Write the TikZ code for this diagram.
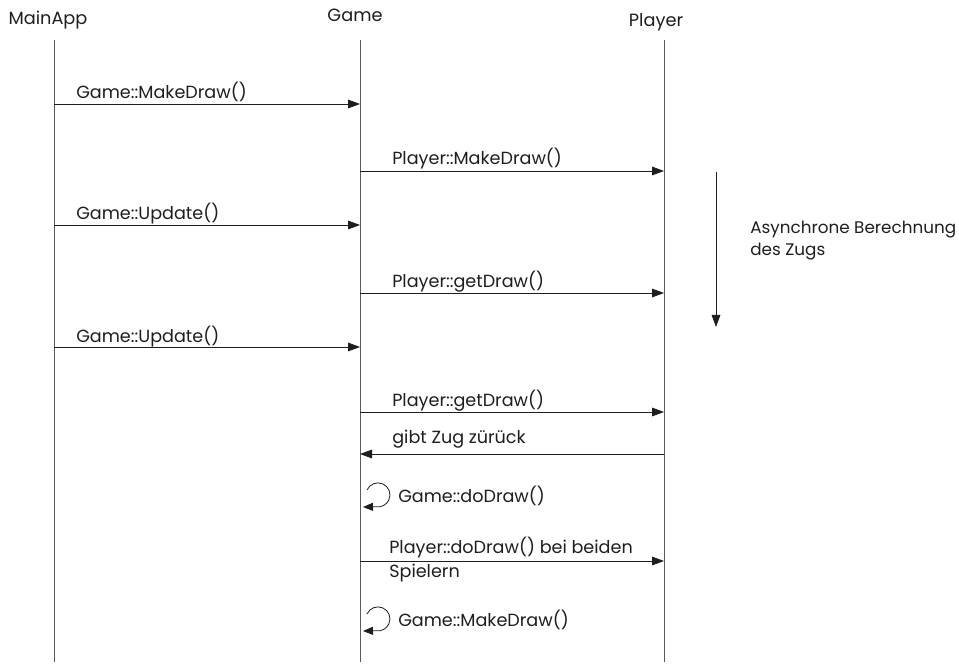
\documentclass[tikz,border=0pt]{standalone}
\usepackage{fontspec}
\setmainfont{Poppins}
\usepackage{tikz}
\usetikzlibrary{arrows.meta,positioning,calc}
\definecolor{ink}{RGB}{30,30,30}
\definecolor{life}{RGB}{90,90,90}
\tikzset{
  actor/.style={font=\fontsize{13.3}{15}\selectfont,text=ink,inner sep=0pt},
  lifeline/.style={draw=life,line width=0.7pt},
  msg/.style={-{Triangle[length=9pt,width=6.5pt]},line width=0.6pt,ink},
  lbl/.style={font=\fontsize{13.2}{15}\selectfont,text=ink,inner sep=0pt,anchor=base west},
  note/.style={lbl,font=\fontsize{12.6}{15}\selectfont},
  self/.style={-{Triangle[length=7.5pt,width=6pt]},line width=0.6pt,ink},
}

\begin{document}
\begin{tikzpicture}[x=0.75pt,y=-0.75pt]
  \useasboundingbox (0,0) rectangle (959,666);

  % actors and their lifelines
  \node[actor] (mainapp) at (48,20) {MainApp};
  \node[actor] (game) at (355,15) {Game};
  \node[actor] (player) at (656,22) {Player};
  \coordinate (mainapp top) at (54,40);  \coordinate (mainapp end) at (54,662);
  \coordinate (game top) at (360,40);    \coordinate (game end) at (360,662);
  \coordinate (player top) at (664,40);  \coordinate (player end) at (664,662);
  \draw[lifeline] (mainapp top) -- (mainapp end);
  \draw[lifeline] (game top) -- (game end);
  \draw[lifeline] (player top) -- (player end);

  % calls from MainApp to Game
  \coordinate (ma1) at (54,104); \coordinate (ga1) at (360,104);
  \coordinate (ma2) at (54,225); \coordinate (ga2) at (360,225);
  \coordinate (ma3) at (54,347); \coordinate (ga3) at (360,347);
  \draw[msg] (ma1) -- (ga1);
  \draw[msg] (ma2) -- (ga2);
  \draw[msg] (ma3) -- (ga3);
  \node[lbl] (l1) at (76,99) {Game::MakeDraw()};
  \node[lbl] (l3) at (76,220) {Game::Update()};
  \node[lbl] (l5) at (76,342) {Game::Update()};

  % calls from Game to Player
  \coordinate (gb1) at (360,171); \coordinate (pb1) at (664,171);
  \coordinate (gb2) at (360,293); \coordinate (pb2) at (664,293);
  \coordinate (gb3) at (360,412); \coordinate (pb3) at (664,412);
  \coordinate (gb4) at (360,561); \coordinate (pb4) at (664,561);
  \draw[msg] (gb1) -- (pb1);
  \draw[msg] (gb2) -- (pb2);
  \draw[msg] (gb3) -- (pb3);
  \draw[msg] (gb4) -- (pb4);
  \node[lbl] (l2) at (392,165) {Player::MakeDraw()};
  \node[lbl] (l4) at (392,287) {Player::getDraw()};
  \node[lbl] (l6) at (392,406) {Player::getDraw()};
  \node[lbl] (l9) at (389,553) {Player::doDraw() bei beiden};
  \node[lbl] (l9b) at (389,577) {Spielern};

  % answer back to Game
  \coordinate (pr) at (664,454); \coordinate (gr) at (360,454);
  \draw[msg] (pr) -- (gr);
  \node[lbl] (l7) at (392,443) {gibt Zug zürück};

  % self calls on Game
  \coordinate (s1a) at (367,490); \coordinate (s1b) at (363,507);
  \coordinate (s2a) at (367,614); \coordinate (s2b) at (363,631);
  \draw[self] (s1a) arc[start angle=204,end angle=458,radius=12] -- (s1b);
  \draw[self] (s2a) arc[start angle=204,end angle=458,radius=12] -- (s2b);
  \node[lbl] (l8) at (398,502) {Game::doDraw()};
  \node[lbl] (l10) at (398,626) {Game::MakeDraw()};

  % asynchronous computation in Player
  \coordinate (async top) at (716,172); \coordinate (async end) at (716,327);
  \draw[msg] (async top) -- (async end);
  \node[note] (async) at (750,234) {Asynchrone Berechnung};
  \node[note] (async2) at (750,256) {des Zugs};
\end{tikzpicture}
\end{document}
